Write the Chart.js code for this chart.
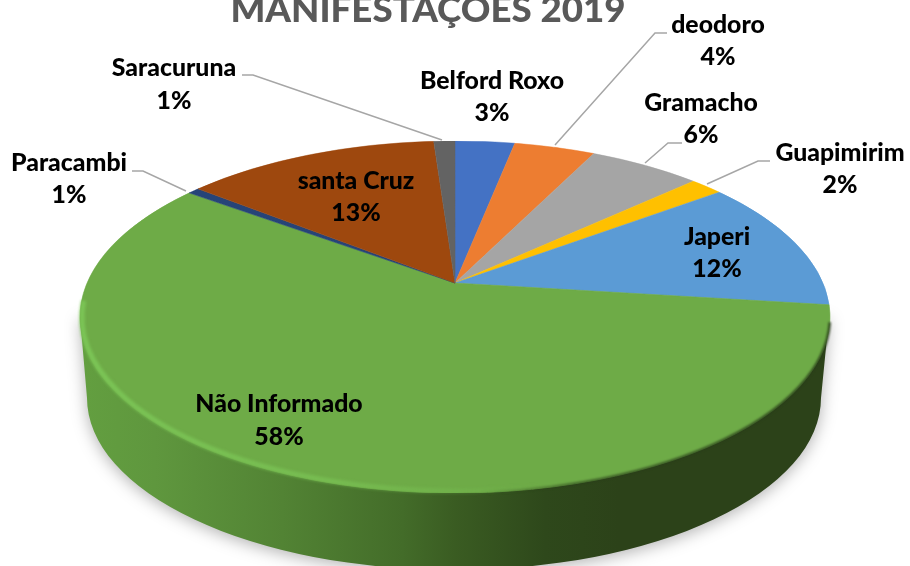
<!DOCTYPE html>
<html><head><meta charset="utf-8">
<style>html,body{margin:0;padding:0;background:#fff}canvas{display:block}</style>
<script src="https://cdn.jsdelivr.net/npm/chart.js@4"></script>
</head><body><canvas id="c" width="910" height="566"></canvas>
<script>
const categories = ['Belford Roxo','deodoro','Gramacho','Guapimirim','Japeri','Não Informado','Paracambi','santa Cruz','Saracuruna'];
const shares = [3.1,4.2,5.8,1.7,12.2,58.1,0.6,13.2,1.1];
const sliceColors = ['#4472c4','#ed7d31','#a5a5a5','#ffc000','#5b9bd5','#6eab47','#264478','#9e480e','#636363'];
const titleText = 'MANIFESTAÇÕES 2019';
// label centres (x, first-line y, second-line y)
const labelSpots = [[492,81,113],[718,25,57],[701,103,135],[840,153,185],[717,237,269],[279,404,437],[69,163,195],[356,181,213],[174,68,101]];
const leaders = [
  [[667,33],[655,33],[555,145]],
  [[682,143],[668,143],[645,163]],
  [[770,161],[758,161],[707,184]],
  [[132,171],[143,171],[186,191]],
  [[242,75],[253,75],[442,140]]
];
// tilted-disc projection of the pie
const CX=455, APEX=283, TOP=141, BOT=493, RX=375;
const c=-68/352, A=142+141*c, R0=RX*Math.sqrt(1-c*c);
const vOf=y=>(y-APEX)/(A-c*y);
const EY=(TOP+BOT)/2, ERY=(BOT-TOP)/2;

const disc3d={
  id:'disc3d',
  beforeDatasetsDraw(chart){
    const ctx=chart.ctx, W=chart.width;
    // side wall
    ctx.save();
    const g=ctx.createLinearGradient(80,0,830,0);
    [[0,'#639f40'],[0.1,'#5f973e'],[0.27,'#528334'],[0.43,'#436c29'],[0.5,'#3a5c22'],[0.62,'#2e481b'],[0.72,'#2c4219'],[1,'#2c4219']].forEach(s=>g.addColorStop(s[0],s[1]));
    ctx.fillStyle=g;
    ctx.shadowColor='rgba(0,0,0,0.3)';ctx.shadowBlur=16;ctx.shadowOffsetY=3;
    ctx.beginPath();
    ctx.moveTo(80,EY);
    ctx.lineTo(87,398);
    ctx.ellipse(454,398,367,172,0,Math.PI,0,true);
    ctx.lineTo(829,EY);
    ctx.closePath();
    ctx.fill();
    ctx.restore();
    // top face
    const arcs=chart.getDatasetMeta(0).data;
    const a0=arcs[0], r=a0.outerRadius;
    for(let y=TOP-1;y<=BOT+1;y++){
      const v0=Math.max(-1,vOf(y)), v1=Math.min(1,vOf(y+1));
      if(v1<=v0) continue;
      const vm=(v0+v1)/2, sx=(R0/(1+c*vm))/r, sy=1/((v1-v0)*r);
      ctx.save();
      ctx.beginPath();ctx.rect(0,y,W,1);ctx.clip();
      ctx.setTransform(sx,0,0,sy,CX-a0.x*sx,y-(a0.y+v0*r)*sy);
      arcs.forEach(el=>el.draw(ctx));
      ctx.restore();
    }
    // rim highlight and shade
    ctx.save();
    const h=ctx.createLinearGradient(80,0,540,0);
    h.addColorStop(0,'rgba(125,200,88,0.9)');h.addColorStop(0.55,'rgba(125,200,88,0.6)');h.addColorStop(1,'rgba(125,200,88,0)');
    ctx.strokeStyle=h;ctx.lineWidth=5;ctx.filter='blur(1.5px)';
    ctx.beginPath();ctx.ellipse(CX,EY,RX-2,ERY-2,0,Math.PI*0.36,Math.PI*1.03);ctx.stroke();
    const d=ctx.createLinearGradient(480,0,830,0);
    d.addColorStop(0,'rgba(40,60,25,0)');d.addColorStop(0.3,'rgba(40,60,25,0.7)');d.addColorStop(1,'rgba(40,60,25,0.9)');
    ctx.strokeStyle=d;ctx.lineWidth=2.5;ctx.filter='blur(1px)';
    ctx.beginPath();ctx.ellipse(CX,EY,RX,ERY,0,0.03,Math.PI*0.55);ctx.stroke();
    ctx.restore();
    return false;
  },
  afterDraw(chart){
    const ctx=chart.ctx;
    ctx.save();
    ctx.strokeStyle='#a6a6a6';ctx.lineWidth=1.5;
    leaders.forEach(l=>{ctx.beginPath();l.forEach((p,i)=>i?ctx.lineTo(p[0],p[1]):ctx.moveTo(p[0],p[1]));ctx.stroke();});
    ctx.textAlign='center';ctx.textBaseline='middle';
    ctx.fillStyle='#000';ctx.font='900 24.8px Lato';
    categories.forEach((n,i)=>{
      const s=labelSpots[i];
      ctx.fillText(n,s[0],s[1]);
      ctx.fillText(Math.round(shares[i])+'%',s[0],s[2]);
    });
    ctx.fillStyle='#595959';ctx.font='900 36.7px Lato';
    ctx.textBaseline='alphabetic';
    ctx.fillText(titleText,428,22);
    ctx.restore();
  }
};

new Chart(document.getElementById('c'),{
  type:'pie',
  data:{labels:categories,datasets:[{data:shares,backgroundColor:sliceColors,borderColor:sliceColors,borderWidth:0.6}]},
  options:{responsive:false,animation:false,layout:{padding:0},
    plugins:{legend:{display:false},tooltip:{enabled:false},title:{display:false}}},
  plugins:[disc3d]
});
</script></body></html>
